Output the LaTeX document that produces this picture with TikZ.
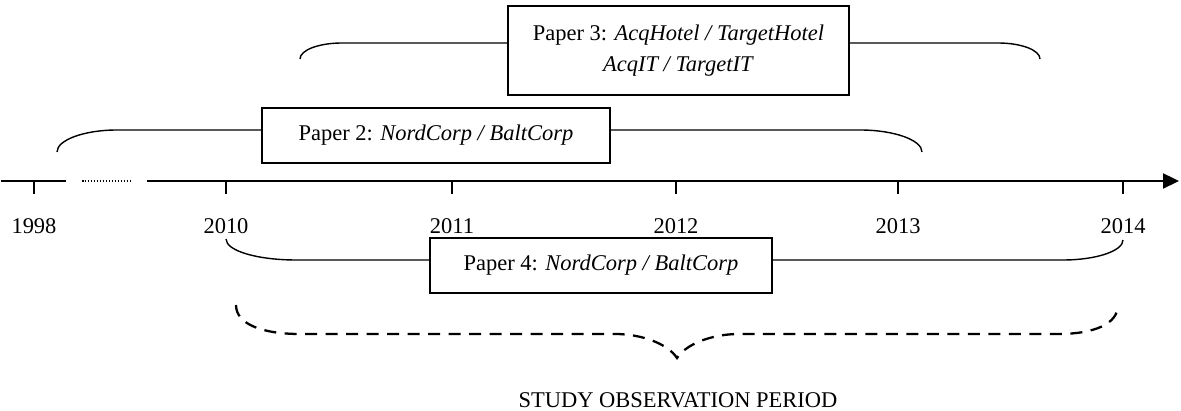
\documentclass[tikz,border=0pt]{standalone}
\usepackage{fontspec}
\setmainfont{Liberation Serif}
\usetikzlibrary{arrows.meta,positioning,calc}
\definecolor{lineCol}{HTML}{000000}
\tikzstyle{axis}=[line width=1.3pt, draw=lineCol]
\tikzstyle{tick}=[line width=0.8pt, draw=lineCol]
\tikzstyle{gap}=[line width=0.8pt, draw=lineCol, dash pattern=on 0.03cm off 0.03cm]
\tikzstyle{span}=[line width=0.8pt, draw=lineCol]
\tikzstyle{study}=[line width=1.3pt, draw=lineCol, dash pattern=on 0.24cm off 0.17cm]
\tikzstyle{paperbox}=[draw=lineCol, line width=0.8pt, fill=white, align=center, inner sep=0pt]

\begin{document}
\begin{tikzpicture}[x=0.02cm, y=-0.02cm, font=\fontsize{12.8}{15.5}\selectfont]
    \useasboundingbox (0,0) rectangle (1181,411);

    % ==== TIME AXIS ====
    \coordinate (ax0) at (1,181);
    \coordinate (ax1) at (66,181);
    \coordinate (gap0) at (82,181);
    \coordinate (gap1) at (131,181);
    \coordinate (ax2) at (147,181);
    \coordinate (ax3) at (1179,181);
    \draw[tick] (ax0) -- (ax1);
    \draw[gap] (gap0) -- (gap1);
    \draw[axis, -{Triangle[length=0.32cm, width=0.3cm]}] (ax2) -- (ax3);

    % ticks and years
    \foreach \yr/\x in {1998/34, 2010/226, 2011/452, 2012/676, 2013/898, 2014/1123} {
        \coordinate (t\yr) at (\x,181);
        \draw[tick] (t\yr) -- ++(0,13);
        \node (y\yr) at (\x,226) {\yr};
    }

    % ==== PAPER BOXES ====
    \node[paperbox, minimum width=6.82cm, minimum height=1.78cm] (p3) at (678.5,50.5)
        {Paper 3: \textit{AcqHotel / TargetHotel}\\[2.5pt] \textit{AcqIT / TargetIT}};
    \node[paperbox, minimum width=6.96cm, minimum height=1.1cm] (p2) at (436,135.5)
        {Paper 2: \textit{NordCorp / BaltCorp}};
    \node[paperbox, minimum width=6.84cm, minimum height=1.1cm] (p4) at (601,265.5)
        {Paper 4: \textit{NordCorp / BaltCorp}};

    % ==== SPANS ====
    % Paper 3
    \coordinate (p3l) at (300,59);
    \coordinate (p3a) at (342,43);
    \coordinate (p3b) at (998,43);
    \coordinate (p3r) at (1040,59);
    \draw[span] (p3l) .. controls (300,50) and (319,43) .. (p3a) -- (p3a -| p3.west);
    \draw[span] (p3b -| p3.east) -- (p3b) .. controls (1021,43) and (1040,50) .. (p3r);

    % Paper 2
    \coordinate (p2l) at (57,152);
    \coordinate (p2a) at (117,130);
    \coordinate (p2b) at (860,130);
    \coordinate (p2r) at (922,152);
    \draw[span] (p2l) .. controls (57,140) and (84,130) .. (p2a) -- (p2a -| p2.west);
    \draw[span] (p2b -| p2.east) -- (p2b) .. controls (894,130) and (922,140) .. (p2r);

    % Paper 4
    \coordinate (p4l) at (226,239);
    \coordinate (p4a) at (296,260);
    \coordinate (p4b) at (1063,260);
    \coordinate (p4r) at (1123,240);
    \draw[span] (p4l) .. controls (226,251) and (258,260) .. (p4a) -- (p4a -| p4.west);
    \draw[span] (p4b -| p4.east) -- (p4b) .. controls (1096,260) and (1123,251) .. (p4r);

    % ==== STUDY PERIOD ====
    \coordinate (sl) at (236,305);
    \coordinate (sa) at (300,334);
    \coordinate (sb) at (615,334);
    \coordinate (tip) at (677,358);
    \coordinate (sc) at (739,334);
    \coordinate (sd) at (1058,334);
    \coordinate (sr) at (1118,305);
    \draw[study] (sl) .. controls (236,324) and (262,334) .. (sa) -- (sb)
        .. controls (642,334) and (668,344) .. (tip)
        .. controls (686,344) and (712,334) .. (sc) -- (sd)
        .. controls (1094,334) and (1118,324) .. (sr);
    \node (period) at (678,400) {STUDY OBSERVATION PERIOD};

\end{tikzpicture}
\end{document}
